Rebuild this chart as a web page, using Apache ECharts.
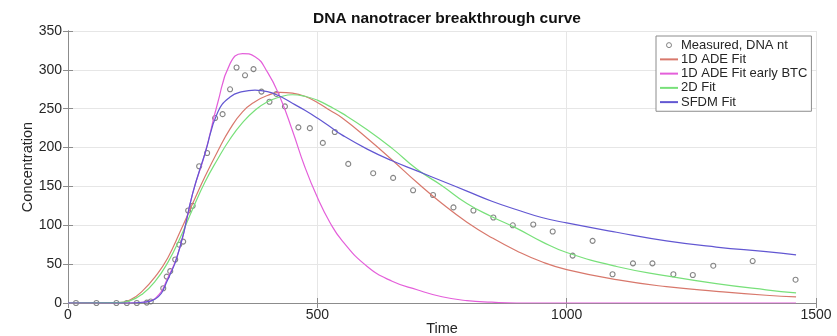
<!DOCTYPE html>
<html>
<head>
<meta charset="utf-8">
<script src="https://cdn.jsdelivr.net/npm/echarts@6/dist/echarts.min.js"></script>
<style>
  html, body { margin: 0; padding: 0; background: #fff; }
  #chart { width: 837px; height: 336px; }
</style>
</head>
<body>
<div id="chart"></div>
<script>
// Measured DNA nanotracer concentrations
const measTime = [16, 57, 97, 118, 138, 158, 166, 191, 198, 205, 215, 223, 231, 241, 250, 263, 279, 295, 310, 325, 338, 355, 372, 388, 404, 418, 435, 462, 485, 511, 535, 562, 612, 652, 692, 732, 773, 813, 853, 892, 933, 972, 1012, 1052, 1092, 1133, 1172, 1214, 1253, 1294, 1373, 1459];
const measConc = [0, 0, 0, 0, 0, 0.5, 2, 19, 34, 41, 56, 75, 79, 119, 125, 176, 193, 238, 243, 275, 303, 293, 301, 272, 259, 269, 253, 226, 225, 206, 220, 179, 167, 161, 145, 139, 123, 119, 110, 100, 101, 92, 61, 80, 37, 51, 51, 37, 36, 48, 54, 30];

// Model fits, sampled on a common time grid
const fitTime = [0, 100, 125, 150, 175, 200, 225, 250, 275, 300, 325, 350, 375, 400, 425, 450, 475, 500, 525, 550, 600, 650, 700, 750, 800, 850, 900, 950, 1000, 1100, 1200, 1300, 1400, 1460];
const fitAde1d = [0, 0.5, 4, 16, 34, 58, 92, 128, 163, 195, 224, 246, 259, 267, 271, 270, 266, 258, 248, 238, 212, 184, 155, 128, 104, 84, 67, 53, 43, 30, 21, 15, 10, 8];
const fitAde1dEarly = [0, 0, 0, 1, 6, 32, 73, 141, 193, 257, 308, 321, 317, 297, 265, 222, 175, 136, 104, 80, 47, 28, 17, 8, 3, 1, 0, 0, 0, 0, 0, 0, 0, 0];
const fit2d = [0, 0.5, 3, 12, 28, 52, 84, 121, 156, 185, 211, 232, 248, 259, 265, 268, 266, 261, 253, 244, 223, 199, 172, 151, 128, 111, 96, 79, 65, 47, 35, 25, 17, 13];
const fitSfdm = [0, 0, 0, 1, 5, 30, 73, 141, 193, 245, 265, 272, 274, 272, 266, 257, 248, 238, 227, 216, 198, 183, 170, 157, 144, 131, 120, 110, 103, 91, 80, 72, 66, 62];

const seriesNames = ['Measured, DNA nt', '1D ADE Fit', '1D ADE Fit early BTC', '2D Fit', 'SFDM Fit'];
const xTicks = [0, 500, 1000, 1500];
const yTicks = [0, 50, 100, 150, 200, 250, 300, 350];

const FONT = '"Liberation Sans", Arial, Helvetica, sans-serif';
const pair = (xs, ys) => xs.map((x, i) => [x, ys[i]]);

const chart = echarts.init(document.getElementById('chart'), null, { renderer: 'canvas' });

const boxColor = '#8c8c8c';
const labelColor = '#262626';
const markerColor = '#666666';

const fitLine = (name, values, color) => ({
  name,
  type: 'line',
  data: pair(fitTime, values),
  showSymbol: false,
  symbol: 'none',
  smooth: 0.5,
  lineStyle: { color, width: 1.2 },
  itemStyle: { color },
  z: 3
});

// legend entries: plain line samples for the fits, a small ring for the measurements
const legendData = seriesNames.map((name, i) => (i === 0
  ? { name, itemStyle: { color: 'rgba(0,0,0,0)', borderColor: markerColor, borderWidth: 1 } }
  : { name, itemStyle: { opacity: 0 } }));

chart.setOption({
  animation: false,
  backgroundColor: '#fff',
  title: {
    text: 'DNA nanotracer breakthrough curve',
    left: 442,
    textAlign: 'center',
    top: 6,
    textStyle: { fontFamily: FONT, fontSize: 15.5, fontWeight: 'bold', color: '#111' }
  },
  grid: { left: 68, right: 21, top: 31, bottom: 33, containLabel: false, outerBoundsMode: 'none' },
  legend: {
    orient: 'vertical',
    left: 656,
    top: 36,
    padding: [2, 4, 2, 3],
    itemGap: 0,
    itemWidth: 18,
    itemHeight: 5,
    backgroundColor: '#fff',
    borderColor: boxColor,
    borderWidth: 1,
    data: legendData,
    textStyle: { fontFamily: FONT, fontSize: 13, color: labelColor, lineHeight: 14.25, padding: [0, 0, 0, -2] }
  },
  xAxis: [
    {
      type: 'value', min: 0, max: 1500, interval: 500,
      name: 'Time', nameLocation: 'middle', nameGap: 18, nameMoveOverlap: false,
      nameTextStyle: { fontFamily: FONT, fontSize: 14.5, color: labelColor },
      axisLine: { show: true, onZero: false, lineStyle: { color: boxColor, width: 1 } },
      axisTick: { show: true, inside: true, length: 5, lineStyle: { color: boxColor } },
      axisLabel: { fontFamily: FONT, fontSize: 14, color: labelColor, margin: 5,
        formatter: v => (xTicks.includes(v) ? String(v) : '') },
      splitLine: { show: true, lineStyle: { color: '#e6e6e6', width: 1 } }
    },
    {
      type: 'value', min: 0, max: 1500, interval: 500, position: 'top',
      axisLine: { show: true, lineStyle: { color: boxColor, width: 1 } },
      axisTick: { show: true, inside: true, length: 5, lineStyle: { color: boxColor } },
      axisLabel: { show: false },
      splitLine: { show: false }
    }
  ],
  yAxis: [
    {
      type: 'value', min: 0, max: 350, interval: 50,
      name: 'Concentration', nameLocation: 'middle', nameGap: 33, nameRotate: 90, nameMoveOverlap: false,
      nameTextStyle: { fontFamily: FONT, fontSize: 14.5, color: labelColor },
      axisLine: { show: true, onZero: false, lineStyle: { color: boxColor, width: 1 } },
      axisTick: { show: true, inside: true, length: 5, lineStyle: { color: boxColor } },
      axisLabel: { fontFamily: FONT, fontSize: 14, color: labelColor, margin: 6,
        formatter: v => (yTicks.includes(v) ? String(v) : '') },
      splitLine: { show: true, lineStyle: { color: '#e6e6e6', width: 1 } }
    },
    {
      type: 'value', min: 0, max: 350, interval: 50, position: 'right',
      axisLine: { show: true, lineStyle: { color: boxColor, width: 1 } },
      axisTick: { show: true, inside: true, length: 5, lineStyle: { color: boxColor } },
      axisLabel: { show: false },
      splitLine: { show: false }
    }
  ],
  series: [
    {
      name: seriesNames[0],
      type: 'scatter',
      data: pair(measTime, measConc),
      symbol: 'circle',
      symbolSize: 5,
      itemStyle: { color: 'rgba(0,0,0,0)', borderColor: markerColor, borderWidth: 1.1 },
      z: 2
    },
    fitLine(seriesNames[1], fitAde1d, '#d8786c'),
    fitLine(seriesNames[2], fitAde1dEarly, '#e45fda'),
    fitLine(seriesNames[3], fit2d, '#78e07a'),
    fitLine(seriesNames[4], fitSfdm, '#6257d2')
  ]
});
</script>
</body>
</html>
